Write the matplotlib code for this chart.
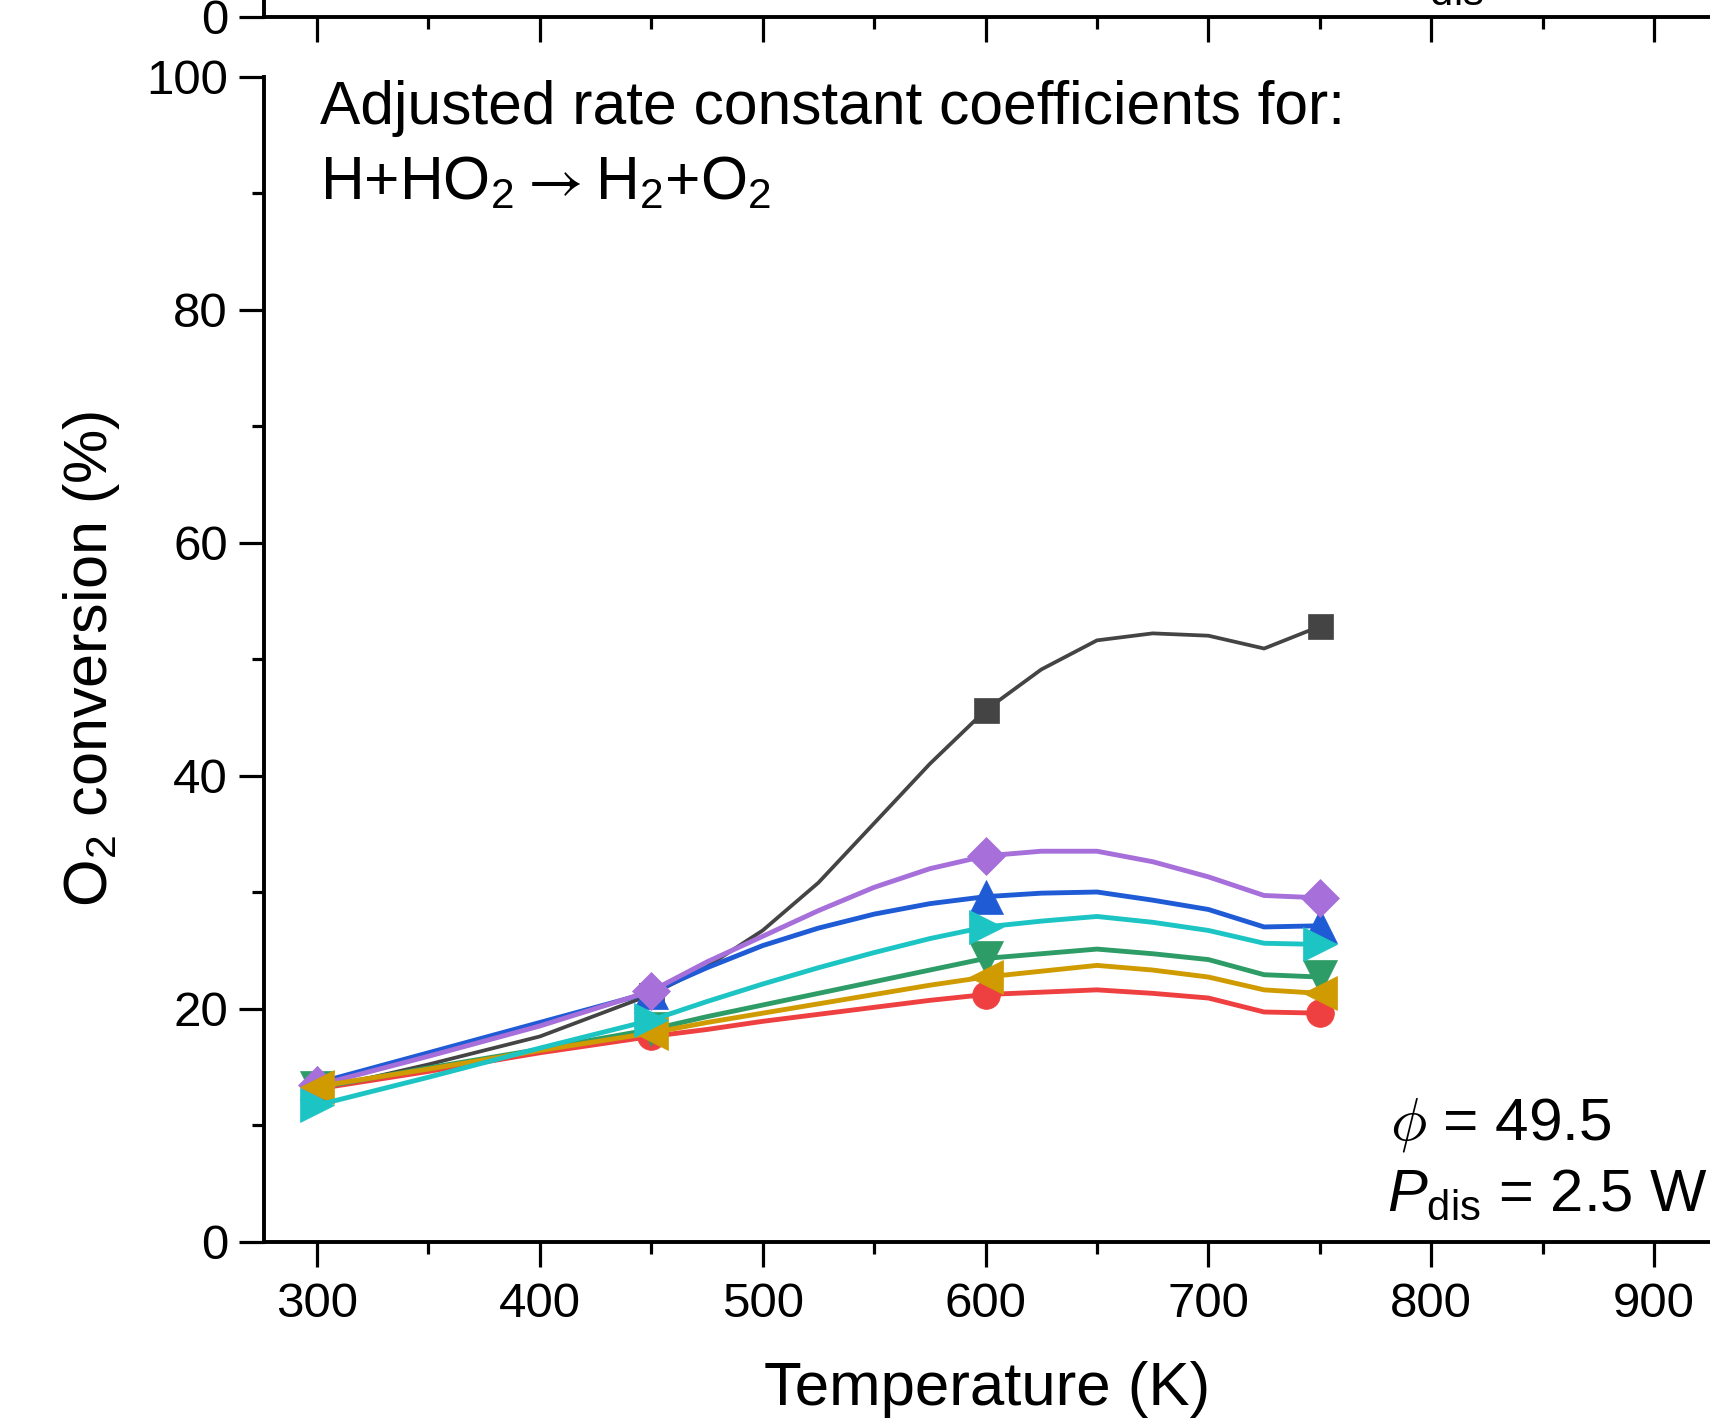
import matplotlib
matplotlib.use("Agg")
import matplotlib.pyplot as plt
from matplotlib.ticker import MultipleLocator

plt.rcParams['font.family'] = ['Liberation Sans', 'DejaVu Sans']
plt.rcParams['mathtext.fontset'] = 'custom'
plt.rcParams['mathtext.rm'] = 'Liberation Sans'
plt.rcParams['mathtext.it'] = 'Liberation Sans:italic'
plt.rcParams['mathtext.bf'] = 'Liberation Sans:bold'
plt.rcParams['mathtext.default'] = 'regular'

# ---- data (O2 conversion %) ----
temperature = [300, 350, 400, 450, 475, 500, 525, 550, 575, 600, 625, 650, 675, 700, 725, 750]
marker_idx = [0, 3, 9, 15]   # points carrying markers: 300, 450, 600, 750 K

black  = [13.0, 15.2, 17.6, 21.2, 23.6, 26.7, 30.8, 35.9, 41.0, 45.6, 49.1, 51.6, 52.2, 52.0, 50.9, 52.8]
red    = [13.1, 14.6, 16.2, 17.6, 18.2, 18.9, 19.5, 20.1, 20.7, 21.2, 21.4, 21.6, 21.3, 20.9, 19.7, 19.6]
blue   = [13.6, 16.2, 18.8, 21.4, 23.5, 25.4, 26.9, 28.1, 29.0, 29.6, 29.9, 30.0, 29.3, 28.5, 27.0, 27.1]
green  = [13.2, 14.9, 16.5, 18.2, 19.3, 20.3, 21.3, 22.3, 23.3, 24.3, 24.7, 25.1, 24.7, 24.2, 22.9, 22.7]
purple = [13.4, 15.9, 18.5, 21.5, 24.0, 26.2, 28.4, 30.4, 32.0, 33.1, 33.5, 33.5, 32.6, 31.3, 29.7, 29.5]
gold   = [13.3, 14.8, 16.4, 17.9, 18.8, 19.6, 20.4, 21.2, 22.0, 22.7, 23.2, 23.7, 23.3, 22.7, 21.6, 21.3]
cyan   = [11.7, 14.1, 16.6, 19.0, 20.6, 22.1, 23.5, 24.8, 26.0, 27.0, 27.5, 27.9, 27.4, 26.7, 25.6, 25.5]

series = [
    (black,  '#444444', 's', 18, 2.7),
    (red,    '#EE4040', 'o', 20, 3.5),
    (blue,   '#1F5BD5', '^', 25, 3.5),
    (green,  '#2E9C66', 'v', 25, 3.5),
    (purple, '#A66FD9', 'D', 19, 3.5),
    (gold,   '#CF9B00', '<', 25, 3.5),
    (cyan,   '#1DC4C4', '>', 25, 3.5),
]

W, H = 1710, 1424
fig = plt.figure(figsize=(W / 100, H / 100), dpi=100)

left_px, bottom_px, top_px = 264, 1241.5, 76.5
ax = fig.add_axes([left_px / W, (H - bottom_px) / H, (W - left_px) / W, (bottom_px - top_px) / H])

for vals, col, mk, ms, lw in series:
    ax.plot(temperature, vals, color=col, lw=lw, marker=mk, ms=ms,
            markevery=marker_idx, mec=col, mfc=col, mew=0.5)

ax.set_xlim(276.2, 925.1)
ax.set_ylim(0, 100)


def style(a):
    for s in ['top', 'right']:
        a.spines[s].set_visible(False)
    for s in ['left', 'bottom']:
        a.spines[s].set_linewidth(2.8)
    a.xaxis.set_major_locator(MultipleLocator(100))
    a.xaxis.set_minor_locator(MultipleLocator(50))
    a.tick_params(which='major', direction='out', length=18, width=2.3,
                  labelsize=35.5, pad=8)
    a.tick_params(which='minor', direction='out', length=8.5, width=2.3)
    a.tick_params(axis='x', which='major', pad=11)


style(ax)
ax.yaxis.set_major_locator(MultipleLocator(20))
ax.yaxis.set_minor_locator(MultipleLocator(10))

ax.set_xlabel('Temperature (K)', fontsize=44.5)
ax.xaxis.set_label_coords(0.5, -0.103)
ax.set_ylabel('O$_2$ conversion (%)', fontsize=44)
ax.yaxis.set_label_coords(-0.098, 0.5)

ax.text(0.0384, 0.9588, 'Adjusted rate constant coefficients for:',
        transform=ax.transAxes, fontsize=43.6, va='baseline', ha='left')
ax.text(0.0384, 0.8944, r'H+HO$_2\hspace{0.06}\mathrm{\rightarrow}\hspace{0.06}$H$_2$+O$_2$',
        math_fontfamily='stixsans',
        transform=ax.transAxes, fontsize=43.6, va='baseline', ha='left')
ax.text(0.779, 0.0874, r'$\mathit{\phi}$ = 49.5', math_fontfamily='cm',
        transform=ax.transAxes, fontsize=43.5, va='baseline', ha='left')
ax.text(0.7766, 0.0265, r'$\mathit{P}_{\mathrm{dis}}$ = 2.5 W',
        transform=ax.transAxes, fontsize=43, va='baseline', ha='left')

# ---- bottom edge of the panel above (cropped) ----
ax2 = fig.add_axes([left_px / W, (H - 17) / H, (W - left_px) / W, 0.3])
style(ax2)
ax2.set_xlim(276.2, 925.1)
ax2.set_ylim(0, 100)
ax2.set_yticks([0])
ax2.set_xticks([300, 400, 500, 600, 700, 800, 900])
ax2.set_xticklabels([])
ax2.text(0.779, 0.050, r'$\mathit{P}_{\mathrm{dis}}$ = 2.5 W',
         transform=ax2.transAxes, fontsize=43, va='baseline', ha='left')

fig.savefig('out.png', dpi=100)
